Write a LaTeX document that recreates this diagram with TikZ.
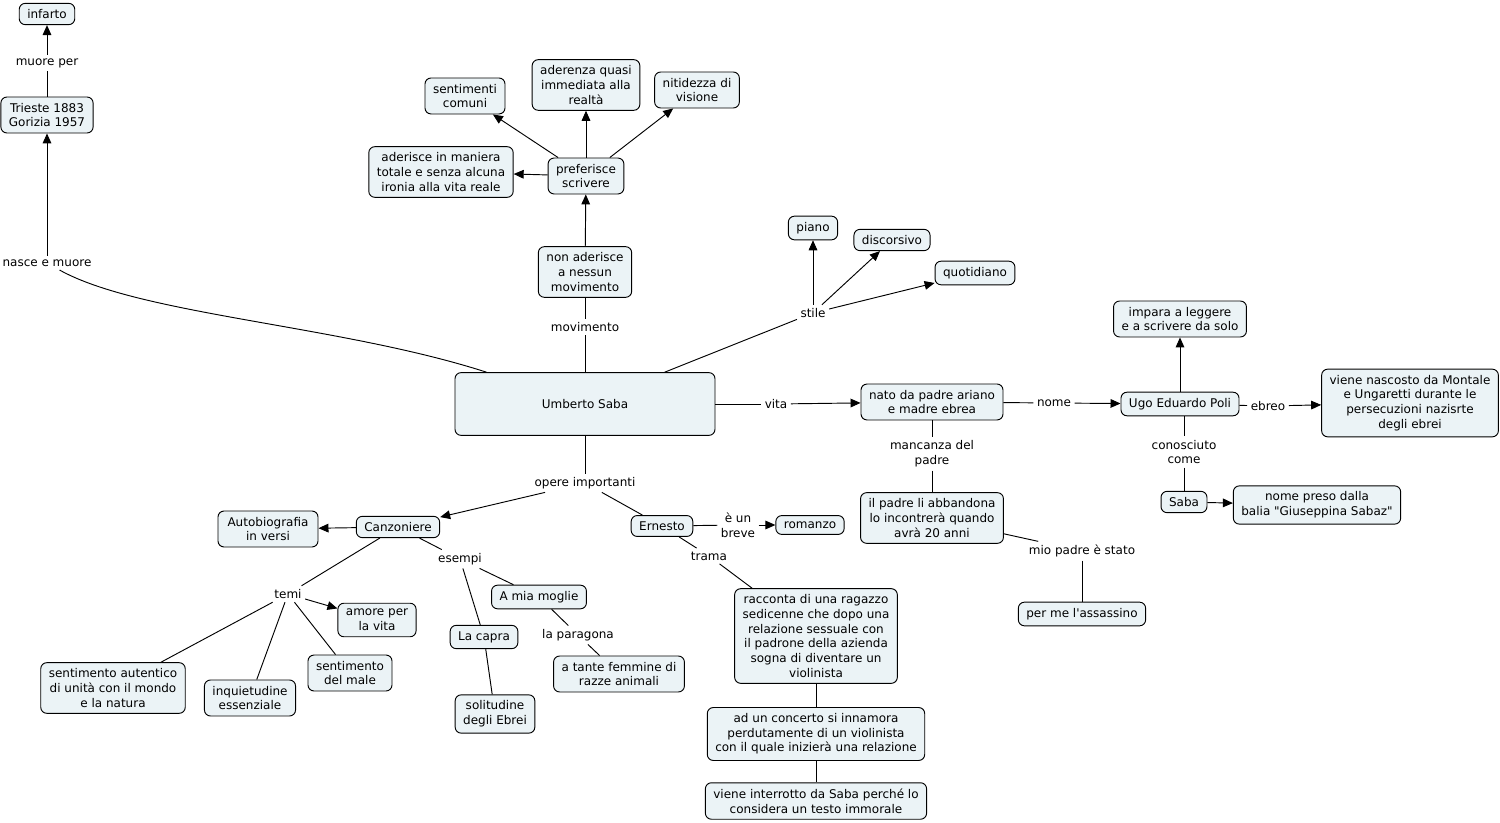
\documentclass[tikz,border=0pt]{standalone}
\usepackage{fontspec}
\setmainfont{DejaVu Sans}[Ligatures=TeXOff]
\usepackage{tikz}
\usetikzlibrary{arrows.meta}
\definecolor{conceptfill}{RGB}{235,243,246}
\tikzset{
	concept/.style={draw=black,line width=0.7pt,fill=conceptfill,rounded corners=4.5pt,align=center,inner xsep=6pt,inner ysep=4.5pt,font=\fontsize{9}{11}\selectfont},
	linkword/.style={align=center,inner sep=2.5pt,font=\fontsize{9}{11}\selectfont},
	conn/.style={line width=0.7pt},
	arr/.style={line width=0.7pt,-{Triangle[length=7.5pt,width=6.5pt]}},
}

\begin{document}
\begin{tikzpicture}[x=0.75pt,y=-0.75pt]
		\useasboundingbox (0,0) rectangle (1500,823);
		% concepts
		\node[concept,minimum width=195pt,minimum height=47pt] (umberto) at (585,404) {Umberto Saba};
		\node[concept] (infarto) at (47,14) {infarto};
		\node[concept] (nascita) at (47,115) {Trieste 1883\\Gorizia 1957};
		\node[concept] (sentcomuni) at (465,96) {sentimenti\\comuni};
		\node[concept] (aderisce) at (441,172) {aderisce in maniera\\totale e senza alcuna\\ironia alla vita reale};
		\node[concept] (aderenza) at (586,85) {aderenza quasi\\immediata alla\\realtà};
		\node[concept] (nitidezza) at (697,90) {nitidezza di\\visione};
		\node[concept] (preferisce) at (586,176) {preferisce\\scrivere};
		\node[concept,minimum width=70pt] (nonaderisce) at (585,272) {non aderisce\\a nessun\\movimento};
		\node[concept] (piano) at (813,228) {piano};
		\node[concept] (discorsivo) at (892,240) {discorsivo};
		\node[concept] (quotidiano) at (975,273) {quotidiano};
		\node[concept] (nato) at (932,402) {nato da padre ariano\\e madre ebrea};
		\node[concept] (ugo) at (1180,404) {Ugo Eduardo Poli};
		\node[concept] (impara) at (1180,319) {impara a leggere\\e a scrivere da solo};
		\node[concept] (nascosto) at (1410,403) {viene nascosto da Montale\\e Ungaretti durante le\\persecuzioni nazisrte\\degli ebrei};
		\node[concept] (sabaname) at (1184,502) {Saba};
		\node[concept] (balia) at (1317,505) {nome preso dalla\\balia "Giuseppina Sabaz"};
		\node[concept] (abbandona) at (932,518) {il padre li abbandona\\lo incontrerà quando\\avrà 20 anni};
		\node[concept] (assassino) at (1082,614) {per me l'assassino};
		\node[concept] (canzoniere) at (398,527) {Canzoniere};
		\node[concept,minimum width=75pt] (autobio) at (268,529) {Autobiografia\\in versi};
		\node[concept] (amore) at (377,620) {amore per\\la vita};
		\node[concept] (autentico) at (113,688) {sentimento autentico\\di unità con il mondo\\e la natura};
		\node[concept] (inquietudine) at (250,698) {inquietudine\\essenziale};
		\node[concept] (male) at (350,673) {sentimento\\del male};
		\node[concept] (moglie) at (539,597) {A mia moglie};
		\node[concept] (capra) at (484,637) {La capra};
		\node[concept] (solitudine) at (495,714) {solitudine\\degli Ebrei};
		\node[concept] (femmine) at (619,674) {a tante femmine di\\razze animali};
		\node[concept] (ernesto) at (662,526) {Ernesto};
		\node[concept] (romanzo) at (810,525) {romanzo};
		\node[concept] (racconta) at (816,636) {racconta di una ragazzo\\sedicenne che dopo una\\relazione sessuale con\\il padrone della azienda\\sogna di diventare un\\violinista};
		\node[concept] (concerto) at (816,734) {ad un concerto si innamora\\perdutamente di un violinista\\con il quale inizierà una relazione};
		\node[concept] (interrotto) at (816,801) {viene interrotto da Saba perché lo\\considera un testo immorale};
		% linking words
		\node[linkword] (lmuore) at (47,63) {muore per};
		\node[linkword] (lnasce) at (47,263) {nasce e muore};
		\node[linkword] (lmovimento) at (585,327) {movimento};
		\node[linkword] (lstile) at (813,313) {stile};
		\node[linkword] (lvita) at (776,404) {vita};
		\node[linkword] (lnome) at (1054,403) {nome};
		\node[linkword] (lebreo) at (1268,406) {ebreo};
		\node[linkword] (lconosciuto) at (1184,452) {conosciuto\\come};
		\node[linkword] (lmancanza) at (932,454) {mancanza del\\padre};
		\node[linkword] (lmiopadre) at (1082,551) {mio padre è stato};
		\node[linkword] (lopere) at (585,483) {opere importanti};
		\node[linkword] (lesempi) at (460,559) {esempi};
		\node[linkword] (ltemi) at (288,594) {temi};
		\node[linkword] (lparagona) at (578,635) {la paragona};
		\node[linkword] (lbreve) at (738,525) {è un\\breve};
		\node[linkword] (ltrama) at (709,556) {trama};
		% connectors
		\draw[conn] ([xshift=24pt]umberto.north west) .. controls (340,325) and (140,315) .. (lnasce);
		\draw[arr] (lnasce) -- (nascita);
		\draw[conn] (nascita) -- (lmuore);
		\draw[arr] (lmuore) -- (infarto);
		\draw[conn] (umberto) -- (lmovimento);
		\draw[conn] (lmovimento) -- (nonaderisce);
		\draw[arr] (nonaderisce) -- (preferisce);
		\draw[arr] (preferisce) -- (aderisce);
		\draw[arr] (preferisce) -- (sentcomuni);
		\draw[arr] (preferisce) -- (aderenza);
		\draw[arr] (preferisce) -- (nitidezza);
		\draw[conn] (umberto) -- (lstile);
		\draw[arr] (lstile) -- (piano);
		\draw[arr] (lstile) -- (discorsivo);
		\draw[arr] (lstile) -- (quotidiano);
		\draw[conn] (umberto) -- (lvita);
		\draw[arr] (lvita) -- (nato);
		\draw[conn] (nato) -- (lnome);
		\draw[arr] (lnome) -- (ugo);
		\draw[arr] (ugo) -- (impara);
		\draw[conn] (ugo) -- (lebreo);
		\draw[arr] (lebreo) -- (nascosto);
		\draw[conn] (lconosciuto |- ugo.south) -- (lconosciuto);
		\draw[conn] (lconosciuto) -- (sabaname);
		\draw[arr] (sabaname) -- (balia);
		\draw[conn] (nato) -- (lmancanza);
		\draw[conn] (lmancanza) -- (abbandona);
		\draw[conn] (abbandona) -- (lmiopadre);
		\draw[conn] (lmiopadre) -- (assassino);
		\draw[conn] (umberto) -- (lopere);
		\draw[arr] (lopere) -- (canzoniere);
		\draw[conn] (lopere) -- (ernesto);
		\draw[arr] (canzoniere) -- (autobio);
		\draw[conn] (canzoniere) -- (ltemi);
		\draw[arr] (ltemi) -- (amore);
		\draw[conn] (ltemi) -- (autentico);
		\draw[conn] (ltemi) -- (inquietudine);
		\draw[conn] (ltemi) -- (male);
		\draw[conn] (canzoniere) -- (lesempi);
		\draw[conn] (lesempi) -- (moglie);
		\draw[conn] (lesempi) -- (capra);
		\draw[conn] (moglie) -- (lparagona);
		\draw[conn] (lparagona) -- (femmine);
		\draw[conn] (capra) -- (solitudine);
		\draw[conn] (ernesto) -- (lbreve);
		\draw[arr] (lbreve) -- (romanzo);
		\draw[conn] (ernesto) -- (ltrama);
		\draw[conn] (ltrama) -- (racconta);
		\draw[conn] (racconta) -- (concerto);
		\draw[conn] (concerto) -- (interrotto);
	\end{tikzpicture}
\end{document}
